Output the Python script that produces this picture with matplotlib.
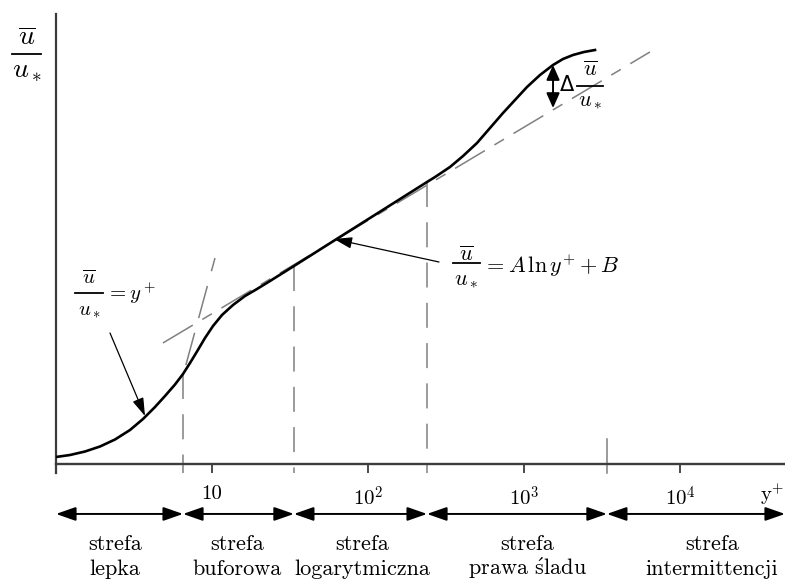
import numpy as np
import matplotlib
matplotlib.use("Agg")
import matplotlib.pyplot as plt
from matplotlib.lines import Line2D

plt.rcParams['mathtext.fontset'] = 'cm'
plt.rcParams['font.family'] = ['cmr10', 'DejaVu Serif']
plt.rcParams['lines.scale_dashes'] = False

# velocity profile: lg(y+) and u/u* (arbitrary units)
lg_yplus = [0.0, 0.0897, 0.1859, 0.2821, 0.3782, 0.4744, 0.5577, 0.6346, 0.6987,
            0.7628, 0.8141, 0.859, 0.9038, 0.9551, 1.0064, 1.0641, 1.1346, 1.2115,
            1.2885, 1.3718, 1.4487, 1.5256, 1.7885, 2.0769, 2.3782, 2.4295, 2.5256,
            2.609, 2.6987, 2.7821, 2.8654, 2.9423, 3.0192, 3.1026, 3.1859, 3.25,
            3.3141, 3.3846, 3.4551]
u_plus = [0.467, 0.6, 0.833, 1.167, 1.633, 2.267, 3.0, 3.8, 4.533,
          5.3, 6.0, 6.733, 7.5, 8.4, 9.2, 9.933, 10.6, 11.2,
          11.667, 12.2, 12.7, 13.2, 14.93, 16.82, 18.8, 19.13, 19.8,
          20.53, 21.4, 22.4, 23.4, 24.267, 25.133, 25.933, 26.6, 27.0,
          27.267, 27.467, 27.6]
yplus = 10 ** np.array(lg_yplus)

# asymptotes
loglaw_x = [4.85, 6420]
loglaw_u = [8.07, 27.47]
visc_x = [6.8, 10.45]
visc_u = [6.6, 13.73]

# zone boundaries
bound_x = [6.52, 33.5, 239]
bound_top = [6.0, 13.2, 18.8]
outer_x = 3400
zone_edges = [1, 6.52, 33.5, 239, 3400, 47100]
zone_centres = [2.39, 14.5, 91.5, 1045, 15960]
zone_names = ['lepka', 'buforowa', 'logarytmiczna',
              'prawa $\\acute{\\mathrm{s}}$ladu', 'intermittencji']

tick_vals = [10, 100, 1000, 10000]
tick_labels = ['10', '$10^2$', '$10^3$', '$10^4$']

# wake deficit arrow
delta_x = 1535
delta_u = [26.6, 23.73]

W, H = 785, 581
fig = plt.figure(figsize=(W / 100, H / 100), dpi=100)
ax = fig.add_axes([56 / W, 117 / H, 729 / W, 450 / H])
ax.set_xscale('log')
ax.set_xlim(1, 10 ** (729 / 156))
ax.set_ylim(0, 30)


def ftext(px, py, s, **kw):
    fig.text(px / W, 1 - py / H, s, **kw)


def frac(cx, bar_y, half_w, num_y, den_y, size):
    # u-bar over u-star, drawn as stacked pieces
    ftext(cx, num_y, r'$\overline{u}$', fontsize=size, ha='center', va='center')
    ftext(cx, den_y, r'$u_*$', fontsize=size, ha='center', va='center')
    fig.add_artist(Line2D([(cx - half_w) / W, (cx + half_w) / W],
                          [1 - bar_y / H, 1 - bar_y / H],
                          transform=fig.transFigure, color='black', lw=1.3))


axc = '#3c3c3c'
gray = '#808080'
for side in ['top', 'right', 'left']:
    ax.spines[side].set_visible(False)
ax.spines['bottom'].set_color(axc)
ax.spines['bottom'].set_linewidth(1.7)
ax.plot([1, 1], [-0.6, 30], color=axc, lw=1.6, clip_on=False)

ax.set_yticks([])
ax.set_xticks(tick_vals, tick_labels)
ax.minorticks_off()
ax.tick_params(axis='x', direction='out', length=6.5, width=1.3, color=axc,
               labelsize=15, pad=9)

# profile and asymptotes
ax.plot(yplus, u_plus, color='black', lw=1.9, zorder=5)
ax.plot(loglaw_x, loglaw_u, color=gray, lw=1.1, dashes=(25, 8, 8, 8))
ax.plot(visc_x, visc_u, color=gray, lw=1.1, dashes=(24, 11))
for x, top in zip(bound_x, bound_top):
    ax.plot([x, x], [top, -0.6], color=gray, lw=1.1, dashes=(18, 11), clip_on=False)
ax.plot([outer_x, outer_x], [1.67, -0.6], color=gray, lw=1.1, clip_on=False)

# zone arrows
for a, b in zip(zone_edges[:-1], zone_edges[1:]):
    ax.annotate('', xy=(b, -3.33), xytext=(a, -3.33), annotation_clip=False,
                arrowprops=dict(arrowstyle='<|-|>,head_length=1.2,head_width=0.42',
                                color='black', lw=1.4, shrinkA=0, shrinkB=0,
                                mutation_scale=10))
for c, name in zip(zone_centres, zone_names):
    ax.text(c, -5.73, 'strefa', ha='center', va='baseline', fontsize=16, clip_on=False)
    ax.text(c, -7.4, name, ha='center', va='baseline', fontsize=16, clip_on=False)

# delta arrow
ax.annotate('', xy=(delta_x, delta_u[1]), xytext=(delta_x, delta_u[0]),
            arrowprops=dict(arrowstyle='<|-|>,head_length=0.9,head_width=0.4',
                            color='black', lw=1.4, shrinkA=0, shrinkB=0,
                            mutation_scale=10))
ftext(567, 85, 'Δ', family='DejaVu Sans', fontsize=15, ha='center', va='center')
frac(590, 86, 13, 70, 101, 16)

# labels with arrows
frac(89, 293, 14, 279, 311, 15)
ftext(106, 293, r'$=y^+$', fontsize=15, ha='left', va='center')
ax.annotate('', xy=(10 ** ((145 - 56) / 156), (464 - 416) / 15),
            xytext=(10 ** ((110 - 56) / 156), (464 - 333) / 15),
            arrowprops=dict(arrowstyle='-|>,head_length=1.1,head_width=0.35',
                            color='black', lw=0.9, shrinkA=0, shrinkB=0,
                            mutation_scale=10))
frac(466, 263, 13.5, 255, 280, 16)
ftext(483, 266, r'$=A\,\ln y^{+}+B$', fontsize=16, ha='left', va='center')
ax.annotate('', xy=(10 ** ((334 - 56) / 156), (464 - 239) / 15),
            xytext=(10 ** ((439 - 56) / 156), (464 - 262) / 15),
            arrowprops=dict(arrowstyle='-|>,head_length=1.1,head_width=0.35',
                            color='black', lw=0.9, shrinkA=0, shrinkB=0,
                            mutation_scale=10))

frac(26.5, 54, 14.5, 38, 71, 20)
ftext(772, 494, r'$\mathrm{y}^{+}$', fontsize=15, ha='center', va='center')

fig.savefig('out.png', dpi=100)
